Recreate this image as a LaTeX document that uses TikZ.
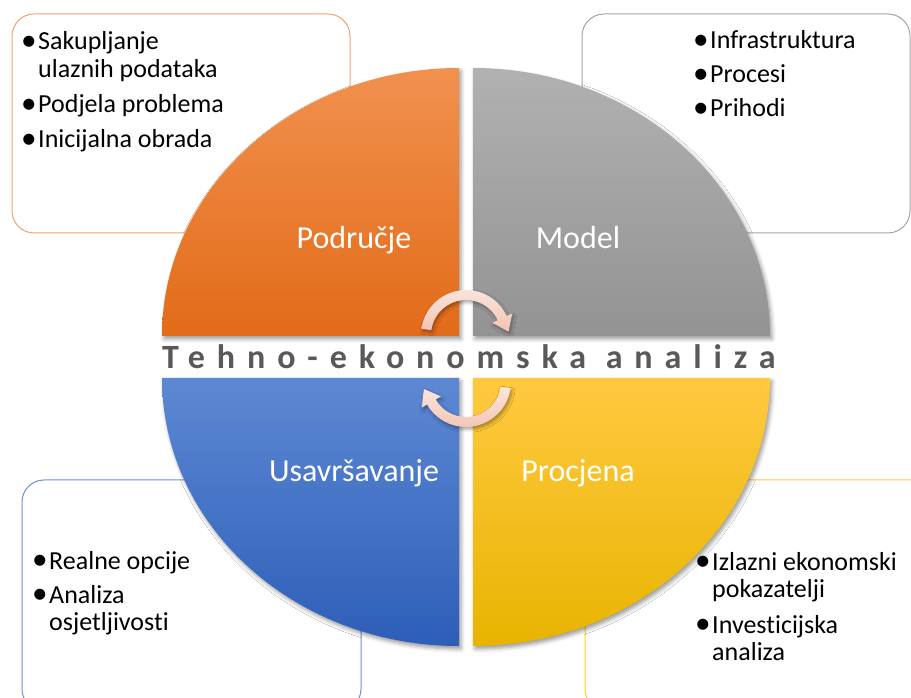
\documentclass[tikz,border=0pt]{standalone}
\usepackage{fontspec}
\setmainfont[Ligatures=NoCommon]{Carlito}
\newfontfamily\titlefont[LetterSpace=35,Ligatures=NoCommon]{Carlito}
\usetikzlibrary{calc,shadows.blur}
\definecolor{orgT}{HTML}{F1914F}
\definecolor{orgB}{HTML}{E26B18}
\definecolor{gryT}{HTML}{B1B1B1}
\definecolor{gryB}{HTML}{939393}
\definecolor{bluT}{HTML}{5D88D3}
\definecolor{bluB}{HTML}{2D5EB8}
\definecolor{yelT}{HTML}{FFC940}
\definecolor{yelB}{HTML}{E8B400}
\definecolor{orgE}{HTML}{F2A26C}
\definecolor{gryE}{HTML}{A5A5A5}
\definecolor{bluE}{HTML}{6A92D7}
\definecolor{yelE}{HTML}{FFCB3A}
\definecolor{arrT}{HTML}{FBE6DE}
\definecolor{arrB}{HTML}{F2C3B3}
\definecolor{titlec}{HTML}{595959}
\newcommand{\bdot}{\raisebox{-0.5pt}{\scalebox{1.2}{•}}}
\tikzset{
  quad/.style={blur shadow={shadow xshift=2pt,shadow yshift=-3pt,shadow blur radius=4pt,shadow opacity=40}},
  infobox/.style={rounded corners=22pt, line width=1pt, fill=white},
  bul/.style={anchor=base west, inner sep=0pt, font=\fontsize{26}{28}\selectfont, text=black},
  lab/.style={anchor=base, inner sep=0pt, text=white, font=\fontsize{32}{38}\selectfont},
  arrowshape/.style={top color=arrT, bottom color=arrB, blur shadow={shadow xshift=1.5pt,shadow yshift=-2.5pt,shadow blur radius=3pt,shadow opacity=35}}
}
\begin{document}
\begin{tikzpicture}[x=1pt,y=1pt]
\useasboundingbox (0,0) rectangle (911,697);
\clip (0,0) rectangle (911,697);
% info boxes
\draw[infobox, draw=orgE] (12,683) rectangle (350,464);
\draw[infobox, draw=gryE] (582,683) rectangle (910,464);
\draw[infobox, draw=bluE] (22,217) rectangle (361,-14);
\draw[infobox, draw=yelE] (585,217) rectangle (935,-14);
\node[bul] (tltext) at (21,647) {\begin{tabular}[t]{@{}l@{\hspace{1.5pt}}l@{}}\bdot&Sakupljanje\\&ulaznih podataka\\[7pt]\bdot&Podjela problema\\[7pt]\bdot&Inicijalna obrada\end{tabular}};
\node[bul] (trtext) at (693,648) {\begin{tabular}[t]{@{}l@{\hspace{1.5pt}}l@{}}\bdot&Infrastruktura\\[6pt]\bdot&Procesi\\[6pt]\bdot&Prihodi\end{tabular}};
\node[bul] (bltext) at (32,128) {\begin{tabular}[t]{@{}l@{\hspace{1.5pt}}l@{}}\bdot&Realne opcije\\[6pt]\bdot&Analiza\\&osjetljivosti\end{tabular}};
\node[bul] (brtext) at (695,127) {\begin{tabular}[t]{@{}l@{\hspace{1.5pt}}l@{}}\bdot&Izlazni ekonomski\\&pokazatelji\\[7pt]\bdot&Investicijska\\&analiza\end{tabular}};
% quadrants
\path[quad, top color=orgT, bottom color=orgB] (459,361) -- (162,361) arc[start angle=180,end angle=90,x radius=297pt,y radius=268pt] -- cycle;
\path[quad, top color=gryT, bottom color=gryB] (473,361) -- (473,629) arc[start angle=90,end angle=0,x radius=297pt,y radius=268pt] -- cycle;
\path[quad, top color=bluT, bottom color=bluB] (459,319) -- (459,51) arc[start angle=270,end angle=180,x radius=297pt,y radius=268pt] -- cycle;
\path[quad, top color=yelT, bottom color=yelB] (473,319) -- (770,319) arc[start angle=0,end angle=-90,x radius=297pt,y radius=268pt] -- cycle;
% labels
\node[lab] (podrucje) at (354,448) {Područje};
\node[lab] (model) at (578,448) {Model};
\node[lab] (usavrsavanje) at (354,215) {Usavršavanje};
\node[lab] (procjena) at (578,215) {Procjena};
% title
\node[anchor=base west, inner sep=0pt, text=titlec, font=\titlefont\bfseries\fontsize{34}{40}\selectfont] (title) at (162,328) {Tehno-ekonomska analiza};
% cycle arrows
\coordinate (ca) at (466,362);
\coordinate (cb) at (466,315);
\path[arrowshape] ($(ca)+(172:45)$) arc[start angle=172,end angle=25,radius=45pt] -- ($(ca)+(25:51)$) -- ($(ca)+(25:40)+(-65:15)$) -- ($(ca)+(25:29)$) -- ($(ca)+(25:35)$) arc[start angle=25,end angle=172,radius=35pt] -- cycle;
\path[arrowshape] ($(cb)+(-8:45)$) arc[start angle=-8,end angle=-150,radius=45pt] -- ($(cb)+(-150:51)$) -- ($(cb)+(-150:40)+(120:15)$) -- ($(cb)+(-150:29)$) -- ($(cb)+(-150:35)$) arc[start angle=-150,end angle=-8,radius=35pt] -- cycle;
\end{tikzpicture}
\end{document}
